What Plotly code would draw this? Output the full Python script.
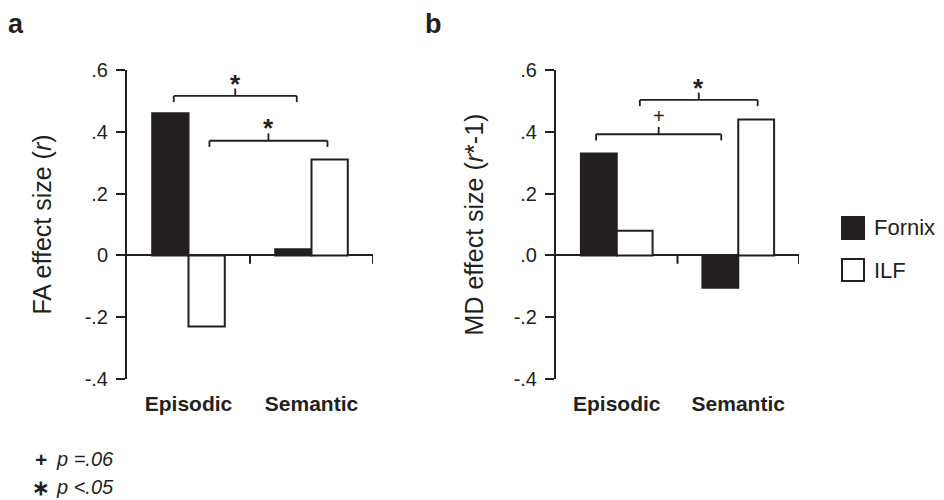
import plotly.graph_objects as go

# ---------------- data ----------------
categories = ["Episodic", "Semantic"]
series_names = ["Fornix", "ILF"]
fa_fornix = [0.46, 0.02]
fa_ilf = [-0.23, 0.31]
md_fornix = [0.33, -0.105]
md_ilf = [0.08, 0.44]
tick_vals = [0.6, 0.4, 0.2, 0.0, -0.2, -0.4]
fa_tick_text = [".6", ".4", ".2", "0", "-.2", "-.4"]
md_tick_text = [".6", ".4", ".2", ".0", "-.2", "-.4"]
# significance comparisons: (x from, x to, bracket level, mark)
fa_sig = [(-0.12, 0.88, 0.516, "*"), (0.17, 1.13, 0.371, "*")]
md_sig = [(-0.17, 0.86, 0.392, "+"), (0.19, 1.16, 0.503, "*")]
footnotes = [("+", "p =.06"), ("\u2217", "p <.05")]

W, H = 944, 500
OFF = 8  # page body margin of the browser
INK = "#231f20"
FONT = "Liberation Sans, Arial, sans-serif"
colors = [INK, "white"]

def px(x):
    return (x - OFF) / W

def py(y):
    return 1 - (y - OFF) / H

fig = go.Figure()
cat_idx = list(range(len(categories)))

panels = [
    ("x", "y", fa_fornix, fa_ilf, fa_tick_text, "FA effect size (<i>r</i>)", fa_sig),
    ("x2", "y2", md_fornix, md_ilf, md_tick_text, "MD effect size (<i>r</i>*-1)", md_sig),
]

for xa, ya, fvals, ivals, ttext, title, sigs in panels:
    for name, vals, col in zip(series_names, [fvals, ivals], colors):
        fig.add_trace(go.Bar(
            x=cat_idx, y=vals, name=name, xaxis=xa, yaxis=ya,
            marker=dict(color=col, line=dict(color=INK, width=2)),
            showlegend=False,
        ))
    # category-boundary ticks on the zero line
    for xb in [0.5, 1.5]:
        fig.add_shape(type="line", xref=xa, yref=ya, x0=xb, x1=xb, y0=0, y1=-0.027,
                      line=dict(color=INK, width=2))
    # significance brackets
    for x0, x1, lvl, mark in sigs:
        xm = (x0 + x1) / 2
        ln = dict(color=INK, width=1.8)
        fig.add_shape(type="line", xref=xa, yref=ya, x0=x0, x1=x1, y0=lvl, y1=lvl, line=ln)
        fig.add_shape(type="line", xref=xa, yref=ya, x0=x0, x1=x0, y0=lvl, y1=lvl - 0.02, line=ln)
        fig.add_shape(type="line", xref=xa, yref=ya, x0=x1, x1=x1, y0=lvl, y1=lvl - 0.02, line=ln)
        fig.add_shape(type="line", xref=xa, yref=ya, x0=xm, x1=xm, y0=lvl, y1=lvl + 0.024, line=ln)
        if mark == "*":
            fig.add_annotation(x=xm, y=lvl + 0.024, xref=xa, yref=ya, text="<b>*</b>",
                               showarrow=False, yanchor="bottom", yshift=-12,
                               font=dict(family=FONT, size=26, color=INK))
        else:
            fig.add_annotation(x=xm, y=lvl + 0.024, xref=xa, yref=ya, text="+",
                               showarrow=False, yanchor="bottom", yshift=-2,
                               font=dict(family=FONT, size=20, color=INK))

yaxis_common = dict(
    range=[-0.4, 0.6], tickvals=tick_vals, showline=True, linecolor=INK, linewidth=2,
    ticks="outside", ticklen=9, tickwidth=2, tickcolor=INK, showgrid=False,
    zeroline=True, zerolinecolor=INK, zerolinewidth=2,
    tickfont=dict(family=FONT, size=20, color=INK), ticklabelstandoff=4,
    domain=[py(379), py(70)], automargin=False,
)
xaxis_common = dict(
    range=[-0.5, 1.5], tickvals=cat_idx,
    ticktext=["<b>%s</b>" % c for c in categories],
    showline=False, showgrid=False, zeroline=False, ticks="",
    tickfont=dict(family=FONT, size=21, color=INK), ticklabelstandoff=10,
    automargin=False,
)

fig.update_layout(
    width=W, height=H,
    margin=dict(l=0, r=0, t=0, b=0),
    paper_bgcolor="white", plot_bgcolor="white",
    barmode="group", bargap=0.41, bargroupgap=0,
    font=dict(family=FONT, color=INK),
    xaxis=dict(xaxis_common, domain=[px(127), px(373)], anchor="y"),
    yaxis=dict(yaxis_common, ticktext=fa_tick_text, anchor="x",
               title=dict(text=panels[0][5], font=dict(family=FONT, size=25, color=INK), standoff=26)),
    xaxis2=dict(xaxis_common, domain=[px(556), px(799)], anchor="y2"),
    yaxis2=dict(yaxis_common, ticktext=md_tick_text, anchor="x2",
                title=dict(text=panels[1][5], font=dict(family=FONT, size=25, color=INK), standoff=23)),
    showlegend=False,
)

# panel letters
for letter, xl in [("a", 7), ("b", 424)]:
    fig.add_annotation(x=px(xl), y=py(8), xref="paper", yref="paper", text="<b>%s</b>" % letter,
                       showarrow=False, xanchor="left", yanchor="top", borderpad=0,
                       font=dict(family=FONT, size=27, color=INK))

# legend (drawn manually to match the large square keys)
for i, (name, col) in enumerate(zip(series_names, colors)):
    yc = 228 + i * 42
    fig.add_shape(type="rect", xref="paper", yref="paper",
                  x0=px(842), x1=px(864), y0=py(yc - 11), y1=py(yc + 11),
                  fillcolor=col, line=dict(color=INK, width=2))
    fig.add_annotation(x=px(872), y=py(yc), xref="paper", yref="paper", text=name,
                       showarrow=False, xanchor="left", yanchor="middle",
                       font=dict(family=FONT, size=22, color=INK))

# footnotes
for i, (sym, txt) in enumerate(footnotes):
    yc = 459 + i * 28
    fig.add_annotation(x=px(41), y=py(yc), xref="paper", yref="paper", text="<b>%s</b>" % sym,
                       showarrow=False, xanchor="center", yanchor="middle", borderpad=0,
                       font=dict(family=FONT, size=21, color=INK))
    fig.add_annotation(x=px(55), y=py(yc), xref="paper", yref="paper", text="<i>%s</i>" % txt,
                       showarrow=False, xanchor="left", yanchor="middle", borderpad=0,
                       font=dict(family=FONT, size=20, color=INK))

fig.write_html("out.html")
